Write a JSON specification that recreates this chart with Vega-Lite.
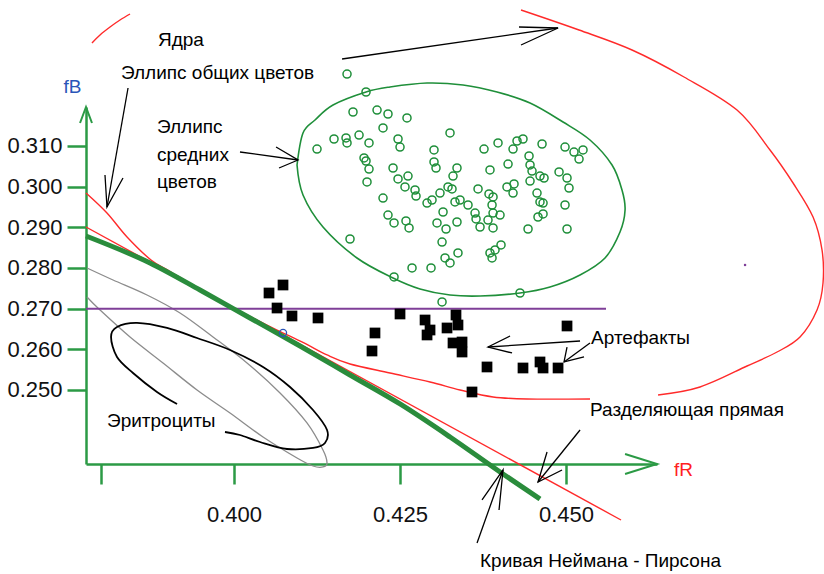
{
 "$schema": "https://vega.github.io/schema/vega-lite/v6.json",
 "width": 571, "height": 357,
 "autosize": {"type": "none"},
 "padding": {"left": 86, "top": 107, "right": 167, "bottom": 110},
 "background": "white",
 "config": {"view": {"stroke": null}, "font": "Liberation Sans"},
 "datasets": {
  "green": [
   {"x":0.41702,"y":0.32770},{"x":0.41988,"y":0.32328},{"x":0.41792,"y":0.31836},{"x":0.42154,"y":0.31885},{"x":0.42319,"y":0.31787},{"x":0.42605,"y":0.31689},{"x":0.42244,"y":0.31443},{"x":0.43253,"y":0.31320},{"x":0.41250,"y":0.30926},{"x":0.41506,"y":0.31172},{"x":0.41687,"y":0.31197},{"x":0.41702,"y":0.31074},{"x":0.41883,"y":0.31270},{"x":0.42033,"y":0.31074},{"x":0.42470,"y":0.31172},{"x":0.42500,"y":0.30975},{"x":0.43012,"y":0.30902},{"x":0.41958,"y":0.30705},{"x":0.42033,"y":0.30434},{"x":0.42003,"y":0.30115},{"x":0.42395,"y":0.30459},{"x":0.42470,"y":0.30189},{"x":0.42620,"y":0.30262},{"x":0.42575,"y":0.29992},{"x":0.42726,"y":0.29918},{"x":0.42741,"y":0.29770},{"x":0.43012,"y":0.30607},{"x":0.43042,"y":0.30459},{"x":0.42244,"y":0.29721},{"x":0.42319,"y":0.29303},{"x":0.42410,"y":0.29107},{"x":0.42590,"y":0.29156},{"x":0.42636,"y":0.28984},{"x":0.41747,"y":0.28713},{"x":0.42681,"y":0.28000},{"x":0.42967,"y":0.28000},{"x":0.42410,"y":0.27779},{"x":0.42907,"y":0.29598},{"x":0.42982,"y":0.29672},{"x":0.43102,"y":0.29844},{"x":0.43148,"y":0.29377},{"x":0.43057,"y":0.29107},{"x":0.43193,"y":0.28959},{"x":0.43133,"y":0.28639},{"x":0.43178,"y":0.28246},{"x":0.43223,"y":0.29992},{"x":0.43283,"y":0.29943},{"x":0.43358,"y":0.30459},{"x":0.43298,"y":0.30262},{"x":0.43675,"y":0.29943},{"x":0.43840,"y":0.29820},{"x":0.43901,"y":0.29746},{"x":0.44111,"y":0.29992},{"x":0.44217,"y":0.30066},{"x":0.44202,"y":0.29844},{"x":0.44563,"y":0.29844},{"x":0.44608,"y":0.29623},{"x":0.44654,"y":0.29328},{"x":0.44578,"y":0.29254},{"x":0.43328,"y":0.29623},{"x":0.43404,"y":0.29672},{"x":0.43524,"y":0.29549},{"x":0.43630,"y":0.29352},{"x":0.43645,"y":0.29205},{"x":0.43705,"y":0.29008},{"x":0.43886,"y":0.29549},{"x":0.43901,"y":0.29352},{"x":0.44006,"y":0.29303},{"x":0.43825,"y":0.29180},{"x":0.43901,"y":0.28984},{"x":0.43358,"y":0.29131},{"x":0.43253,"y":0.28123},{"x":0.43373,"y":0.28369},{"x":0.43855,"y":0.28369},{"x":0.43931,"y":0.28443},{"x":0.44021,"y":0.28566},{"x":0.43886,"y":0.28246},{"x":0.44307,"y":0.27385},{"x":0.43765,"y":0.30926},{"x":0.43976,"y":0.31074},{"x":0.44202,"y":0.30926},{"x":0.44262,"y":0.31123},{"x":0.44352,"y":0.31172},{"x":0.44639,"y":0.31049},{"x":0.44985,"y":0.30975},{"x":0.45120,"y":0.30852},{"x":0.45256,"y":0.30902},{"x":0.45196,"y":0.30680},{"x":0.43855,"y":0.30410},{"x":0.44127,"y":0.30557},{"x":0.44443,"y":0.30754},{"x":0.44458,"y":0.30533},{"x":0.44488,"y":0.30385},{"x":0.44458,"y":0.30139},{"x":0.44608,"y":0.30262},{"x":0.44669,"y":0.30213},{"x":0.44895,"y":0.30361},{"x":0.45015,"y":0.30213},{"x":0.45045,"y":0.29967},{"x":0.44985,"y":0.29549},{"x":0.45015,"y":0.28959},{"x":0.44428,"y":0.28959},{"x":0.43133,"y":0.27164},{"x":0.41988,"y":0.30631},{"x":0.44654,"y":0.29598}
  ],
  "black": [
   {"x":0.40527,"y":0.27385},{"x":0.40738,"y":0.27582},{"x":0.40648,"y":0.27016},{"x":0.40873,"y":0.26820},{"x":0.41265,"y":0.26771},{"x":0.42500,"y":0.26869},{"x":0.42123,"y":0.26402},{"x":0.42078,"y":0.25959},{"x":0.42877,"y":0.26721},{"x":0.42952,"y":0.26475},{"x":0.42907,"y":0.26353},{"x":0.43208,"y":0.26525},{"x":0.43343,"y":0.26844},{"x":0.43373,"y":0.26598},{"x":0.43298,"y":0.26156},{"x":0.43434,"y":0.26180},{"x":0.43434,"y":0.25934},{"x":0.43810,"y":0.25566},{"x":0.44352,"y":0.25541},{"x":0.44608,"y":0.25689},{"x":0.44654,"y":0.25541},{"x":0.44880,"y":0.25541},{"x":0.45015,"y":0.26574},{"x":0.43584,"y":0.24951}
  ],
  "blue": [{"x":0.40738,"y":0.26402}],
  "dot": [{"x":0.47696,"y":0.28074}],
  "lines": [
   {"g":"redE","seg":"a1","i":0,"x":0.37771,"y":0.29844},{"g":"redE","seg":"a1","i":1,"x":0.38087,"y":0.29352},{"g":"redE","seg":"a1","i":2,"x":0.38389,"y":0.28762},{"g":"redE","seg":"a1","i":3,"x":0.38750,"y":0.28197},{"g":"redE","seg":"a1","i":4,"x":0.39051,"y":0.27902},{"g":"redE","seg":"a1","i":5,"x":0.39503,"y":0.27459},{"g":"redE","seg":"a1","i":6,"x":0.39849,"y":0.27139},{"g":"redE","seg":"a1","i":7,"x":0.40256,"y":0.26795},{"g":"redE","seg":"a1","i":8,"x":0.40648,"y":0.26475},{"g":"redE","seg":"a1","i":9,"x":0.41054,"y":0.26156},{"g":"redE","seg":"a1","i":10,"x":0.41401,"y":0.25861},{"g":"redE","seg":"a1","i":11,"x":0.41747,"y":0.25639},{"g":"redE","seg":"a1","i":12,"x":0.42349,"y":0.25418},{"g":"redE","seg":"a1","i":13,"x":0.42952,"y":0.25197},{"g":"redE","seg":"a1","i":14,"x":0.43404,"y":0.25000},{"g":"redE","seg":"a1","i":15,"x":0.43901,"y":0.24828},{"g":"redE","seg":"a1","i":16,"x":0.44413,"y":0.24779},{"g":"redE","seg":"a1","i":17,"x":0.45361,"y":0.24779},
   {"g":"redE","seg":"a2","i":0,"x":0.46386,"y":0.24877},{"g":"redE","seg":"a2","i":1,"x":0.47018,"y":0.25074},{"g":"redE","seg":"a2","i":2,"x":0.47726,"y":0.25590},{"g":"redE","seg":"a2","i":3,"x":0.48178,"y":0.25934},{"g":"redE","seg":"a2","i":4,"x":0.48524,"y":0.26303},{"g":"redE","seg":"a2","i":5,"x":0.48780,"y":0.26967},{"g":"redE","seg":"a2","i":6,"x":0.48870,"y":0.27631},{"g":"redE","seg":"a2","i":7,"x":0.48855,"y":0.28443},{"g":"redE","seg":"a2","i":8,"x":0.48720,"y":0.29254},{"g":"redE","seg":"a2","i":9,"x":0.48419,"y":0.30090},{"g":"redE","seg":"a2","i":10,"x":0.48072,"y":0.30902},{"g":"redE","seg":"a2","i":11,"x":0.47575,"y":0.31885},{"g":"redE","seg":"a2","i":12,"x":0.46777,"y":0.32697},{"g":"redE","seg":"a2","i":13,"x":0.45994,"y":0.33361},{"g":"redE","seg":"a2","i":14,"x":0.45196,"y":0.33852},{"g":"redE","seg":"a2","i":15,"x":0.44322,"y":0.34344},
   {"g":"redE","seg":"b","i":0,"x":0.37861,"y":0.33533},{"g":"redE","seg":"b","i":1,"x":0.37982,"y":0.33730},{"g":"redE","seg":"b","i":2,"x":0.38133,"y":0.33926},{"g":"redE","seg":"b","i":3,"x":0.38283,"y":0.34098},{"g":"redE","seg":"b","i":4,"x":0.38434,"y":0.34246},
   {"g":"redL","seg":"s","i":0,"x":0.37771,"y":0.29008},{"g":"redL","seg":"s","i":1,"x":0.45828,"y":0.21803},
   {"g":"purple","seg":"p","i":0,"x":0.37771,"y":0.270},{"g":"purple","seg":"p","i":1,"x":0.45602,"y":0.270},
   {"g":"np","seg":"n","i":0,"x":0.37771,"y":0.28787},{"g":"np","seg":"n","i":1,"x":0.38735,"y":0.28123},{"g":"np","seg":"n","i":2,"x":0.39488,"y":0.27459},{"g":"np","seg":"n","i":3,"x":0.40241,"y":0.26771},{"g":"np","seg":"n","i":4,"x":0.40994,"y":0.26082},{"g":"np","seg":"n","i":5,"x":0.41747,"y":0.25369},{"g":"np","seg":"n","i":6,"x":0.42500,"y":0.24656},{"g":"np","seg":"n","i":7,"x":0.43253,"y":0.23844},{"g":"np","seg":"n","i":8,"x":0.44006,"y":0.22984},{"g":"np","seg":"n","i":9,"x":0.44608,"y":0.22320},
   {"g":"gray","seg":"g","i":0,"x":0.37786,"y":0.28000},{"g":"gray","seg":"g","i":1,"x":0.38178,"y":0.27705},{"g":"gray","seg":"g","i":2,"x":0.38690,"y":0.27336},{"g":"gray","seg":"g","i":3,"x":0.39187,"y":0.26893},{"g":"gray","seg":"g","i":4,"x":0.39684,"y":0.26303},{"g":"gray","seg":"g","i":5,"x":0.40196,"y":0.25664},{"g":"gray","seg":"g","i":6,"x":0.40693,"y":0.24926},{"g":"gray","seg":"g","i":7,"x":0.41099,"y":0.24189},{"g":"gray","seg":"g","i":8,"x":0.41340,"y":0.23525},{"g":"gray","seg":"g","i":9,"x":0.41401,"y":0.23205},{"g":"gray","seg":"g","i":10,"x":0.41340,"y":0.23107},{"g":"gray","seg":"g","i":11,"x":0.41190,"y":0.23131},{"g":"gray","seg":"g","i":12,"x":0.40949,"y":0.23328},{"g":"gray","seg":"g","i":13,"x":0.40437,"y":0.23844},{"g":"gray","seg":"g","i":14,"x":0.39940,"y":0.24434},{"g":"gray","seg":"g","i":15,"x":0.39443,"y":0.25000},{"g":"gray","seg":"g","i":16,"x":0.38931,"y":0.25664},{"g":"gray","seg":"g","i":17,"x":0.38434,"y":0.26303},{"g":"gray","seg":"g","i":18,"x":0.37982,"y":0.26967},{"g":"gray","seg":"g","i":19,"x":0.37786,"y":0.27287},
   {"g":"blackE","seg":"e","i":0,"x":0.39142,"y":0.24656},{"g":"blackE","seg":"e","i":1,"x":0.38840,"y":0.24951},{"g":"blackE","seg":"e","i":2,"x":0.38479,"y":0.25418},{"g":"blackE","seg":"e","i":3,"x":0.38238,"y":0.25812},{"g":"blackE","seg":"e","i":4,"x":0.38148,"y":0.26303},{"g":"blackE","seg":"e","i":5,"x":0.38238,"y":0.26549},{"g":"blackE","seg":"e","i":6,"x":0.38539,"y":0.26648},{"g":"blackE","seg":"e","i":7,"x":0.38991,"y":0.26525},{"g":"blackE","seg":"e","i":8,"x":0.39443,"y":0.26279},{"g":"blackE","seg":"e","i":9,"x":0.39940,"y":0.25984},{"g":"blackE","seg":"e","i":10,"x":0.40437,"y":0.25566},{"g":"blackE","seg":"e","i":11,"x":0.40843,"y":0.25074},{"g":"blackE","seg":"e","i":12,"x":0.41190,"y":0.24508},{"g":"blackE","seg":"e","i":13,"x":0.41401,"y":0.24016},{"g":"blackE","seg":"e","i":14,"x":0.41370,"y":0.23697},{"g":"blackE","seg":"e","i":15,"x":0.41190,"y":0.23574},{"g":"blackE","seg":"e","i":16,"x":0.40798,"y":0.23549},{"g":"blackE","seg":"e","i":17,"x":0.40392,"y":0.23721},{"g":"blackE","seg":"e","i":18,"x":0.40090,"y":0.23893},{"g":"blackE","seg":"e","i":19,"x":0.39864,"y":0.23967},
   {"g":"greenE","seg":"m","i":0,"x":0.40949,"y":0.30533},{"g":"greenE","seg":"m","i":1,"x":0.41039,"y":0.31320},{"g":"greenE","seg":"m","i":2,"x":0.41220,"y":0.31639},{"g":"greenE","seg":"m","i":3,"x":0.41491,"y":0.32008},{"g":"greenE","seg":"m","i":4,"x":0.41988,"y":0.32328},{"g":"greenE","seg":"m","i":5,"x":0.42349,"y":0.32451},{"g":"greenE","seg":"m","i":6,"x":0.42907,"y":0.32549},{"g":"greenE","seg":"m","i":7,"x":0.43449,"y":0.32500},{"g":"greenE","seg":"m","i":8,"x":0.43961,"y":0.32328},{"g":"greenE","seg":"m","i":9,"x":0.44458,"y":0.32057},{"g":"greenE","seg":"m","i":10,"x":0.44955,"y":0.31590},{"g":"greenE","seg":"m","i":11,"x":0.45361,"y":0.31148},{"g":"greenE","seg":"m","i":12,"x":0.45693,"y":0.30533},{"g":"greenE","seg":"m","i":13,"x":0.45843,"y":0.29918},{"g":"greenE","seg":"m","i":14,"x":0.45889,"y":0.29426},{"g":"greenE","seg":"m","i":15,"x":0.45813,"y":0.28885},{"g":"greenE","seg":"m","i":16,"x":0.45587,"y":0.28246},{"g":"greenE","seg":"m","i":17,"x":0.45211,"y":0.27828},{"g":"greenE","seg":"m","i":18,"x":0.44759,"y":0.27533},{"g":"greenE","seg":"m","i":19,"x":0.44307,"y":0.27385},{"g":"greenE","seg":"m","i":20,"x":0.43705,"y":0.27311},{"g":"greenE","seg":"m","i":21,"x":0.43253,"y":0.27336},{"g":"greenE","seg":"m","i":22,"x":0.42801,"y":0.27484},{"g":"greenE","seg":"m","i":23,"x":0.42395,"y":0.27754},{"g":"greenE","seg":"m","i":24,"x":0.41852,"y":0.28246},{"g":"greenE","seg":"m","i":25,"x":0.41340,"y":0.29008},{"g":"greenE","seg":"m","i":26,"x":0.41039,"y":0.29795},{"g":"greenE","seg":"m","i":27,"x":0.40949,"y":0.30533},
   {"g":"arrow","seg":"1","i":0,"x":0.41627,"y":0.33139},{"g":"arrow","seg":"1","i":1,"x":0.44880,"y":0.33902},
   {"g":"arrow","seg":"2","i":0,"x":0.44292,"y":0.33926},{"g":"arrow","seg":"2","i":1,"x":0.44880,"y":0.33902},{"g":"arrow","seg":"2","i":2,"x":0.44322,"y":0.33484},
   {"g":"arrow","seg":"3","i":0,"x":0.38404,"y":0.32426},{"g":"arrow","seg":"3","i":1,"x":0.38087,"y":0.29500},
   {"g":"arrow","seg":"4","i":0,"x":0.38057,"y":0.30287},{"g":"arrow","seg":"4","i":1,"x":0.38087,"y":0.29500},{"g":"arrow","seg":"4","i":2,"x":0.38328,"y":0.30213},
   {"g":"arrow","seg":"5","i":0,"x":0.40090,"y":0.30852},{"g":"arrow","seg":"5","i":1,"x":0.40964,"y":0.30656},
   {"g":"arrow","seg":"6","i":0,"x":0.40633,"y":0.30975},{"g":"arrow","seg":"6","i":1,"x":0.40964,"y":0.30656},{"g":"arrow","seg":"6","i":2,"x":0.40678,"y":0.30459},
   {"g":"arrow","seg":"7","i":0,"x":0.45211,"y":0.26205},{"g":"arrow","seg":"7","i":1,"x":0.43825,"y":0.26057},
   {"g":"arrow","seg":"8","i":0,"x":0.44157,"y":0.26328},{"g":"arrow","seg":"8","i":1,"x":0.43825,"y":0.26057},{"g":"arrow","seg":"8","i":2,"x":0.44187,"y":0.25910},
   {"g":"arrow","seg":"9","i":0,"x":0.45361,"y":0.26156},{"g":"arrow","seg":"9","i":1,"x":0.44970,"y":0.25689},
   {"g":"arrow","seg":"10","i":0,"x":0.45015,"y":0.26057},{"g":"arrow","seg":"10","i":1,"x":0.44970,"y":0.25689},{"g":"arrow","seg":"10","i":2,"x":0.45271,"y":0.25812},
   {"g":"arrow","seg":"11","i":0,"x":0.45211,"y":0.24016},{"g":"arrow","seg":"11","i":1,"x":0.44578,"y":0.22738},
   {"g":"arrow","seg":"12","i":0,"x":0.44714,"y":0.23475},{"g":"arrow","seg":"12","i":1,"x":0.44578,"y":0.22738},{"g":"arrow","seg":"12","i":2,"x":0.44940,"y":0.23033},
   {"g":"arrow","seg":"13","i":0,"x":0.43660,"y":0.21238},{"g":"arrow","seg":"13","i":1,"x":0.44051,"y":0.23033},
   {"g":"arrow","seg":"14","i":0,"x":0.43735,"y":0.22295},{"g":"arrow","seg":"14","i":1,"x":0.44051,"y":0.23033},{"g":"arrow","seg":"14","i":2,"x":0.43991,"y":0.22049},
   {"g":"axarrow","seg":"y","i":0,"x":0.37681,"y":0.31566},{"g":"axarrow","seg":"y","i":1,"x":0.37771,"y":0.31959},{"g":"axarrow","seg":"y","i":2,"x":0.37861,"y":0.31566},
   {"g":"axarrow","seg":"x","i":0,"x":0.45889,"y":0.23426},{"g":"axarrow","seg":"x","i":1,"x":0.46370,"y":0.23180},{"g":"axarrow","seg":"x","i":2,"x":0.45889,"y":0.22934}
  ],
  "labels": [
   {"label":"Ядра","x":0.38855,"y":0.33607},
   {"label":"Эллипс общих цветов","x":0.38298,"y":0.32795},
   {"label":"Эллипс","x":0.38840,"y":0.31467},
   {"label":"средних","x":0.38840,"y":0.30779},
   {"label":"цветов","x":0.38840,"y":0.30115},
   {"label":"Эритроциты","x":0.38087,"y":0.24238},
   {"label":"Артефакты","x":0.45377,"y":0.26279},
   {"label":"Разделяющая прямая","x":0.45361,"y":0.24508},
   {"label":"Кривая Неймана - Пирсона","x":0.43705,"y":0.20795}
  ]
 },
 "encoding": {
  "x": {"field": "x", "type": "quantitative",
   "scale": {"domain": [0.37771, 0.46370], "nice": false, "zero": false},
   "axis": {"values": [0.38, 0.4, 0.425, 0.45], "labelExpr": "datum.value < 0.39 ? '' : format(datum.value, '.3f')",
    "grid": false, "domainColor": "#2b9a45", "domainWidth": 2.5, "tickColor": "#2b9a45", "tickWidth": 2.5, "tickSize": 20,
    "labelFontSize": 22, "labelColor": "#111111", "labelPadding": 20, "labelDx": 9, "labelFlush": false, "labelOverlap": false,
    "title": "fR", "titleColor": "#ff2020", "titleFontSize": 19, "titleFontWeight": "normal", "titleX": 597, "titleY": 5,
    "titleAlign": "center", "titleBaseline": "middle"}},
  "y": {"field": "y", "type": "quantitative",
   "scale": {"domain": [0.23180, 0.31959], "nice": false, "zero": false},
   "axis": {"values": [0.25, 0.26, 0.27, 0.28, 0.29, 0.3, 0.31], "format": ".3f",
    "grid": false, "domainColor": "#2b9a45", "domainWidth": 2.5, "tickColor": "#2b9a45", "tickWidth": 2.5, "tickSize": 19,
    "labelFontSize": 22, "labelColor": "#111111", "labelPadding": 5, "labelFlush": false, "labelOverlap": false,
    "title": "fB", "titleColor": "#2a55b8", "titleFontSize": 19, "titleFontWeight": "normal", "titleAngle": 0,
    "titleX": -14, "titleY": -21, "titleAlign": "center", "titleBaseline": "middle"}}
 },
 "layer": [
  {"data": {"name": "lines"}, "transform": [{"filter": "datum.g == 'gray'"}],
   "mark": {"type": "line", "interpolate": "cardinal", "color": "#8c8c8c", "strokeWidth": 1.3},
   "encoding": {"order": {"field": "i", "type": "quantitative"}, "detail": {"field": "seg"}}},
  {"data": {"name": "lines"}, "transform": [{"filter": "datum.g == 'blackE'"}],
   "mark": {"type": "line", "interpolate": "cardinal", "color": "#000000", "strokeWidth": 1.8},
   "encoding": {"order": {"field": "i", "type": "quantitative"}, "detail": {"field": "seg"}}},
  {"data": {"name": "lines"}, "transform": [{"filter": "datum.g == 'greenE'"}],
   "mark": {"type": "line", "interpolate": "cardinal", "color": "#1f8f3a", "strokeWidth": 1.6},
   "encoding": {"order": {"field": "i", "type": "quantitative"}, "detail": {"field": "seg"}}},
  {"data": {"name": "lines"}, "transform": [{"filter": "datum.g == 'purple'"}],
   "mark": {"type": "line", "color": "#7f3f98", "strokeWidth": 2},
   "encoding": {"order": {"field": "i", "type": "quantitative"}, "detail": {"field": "seg"}}},
  {"data": {"name": "lines"}, "transform": [{"filter": "datum.g == 'redE'"}],
   "mark": {"type": "line", "interpolate": "cardinal", "color": "#ff2a2a", "strokeWidth": 1.4},
   "encoding": {"order": {"field": "i", "type": "quantitative"}, "detail": {"field": "seg"}}},
  {"data": {"name": "lines"}, "transform": [{"filter": "datum.g == 'redL'"}],
   "mark": {"type": "line", "color": "#ff2a2a", "strokeWidth": 1.4},
   "encoding": {"order": {"field": "i", "type": "quantitative"}, "detail": {"field": "seg"}}},
  {"data": {"name": "lines"}, "transform": [{"filter": "datum.g == 'np'"}],
   "mark": {"type": "line", "interpolate": "monotone", "color": "#2a8c3c", "strokeWidth": 5},
   "encoding": {"order": {"field": "i", "type": "quantitative"}, "detail": {"field": "seg"}}},
  {"data": {"name": "lines"}, "transform": [{"filter": "datum.g == 'arrow'"}],
   "mark": {"type": "line", "color": "#000000", "strokeWidth": 1.3},
   "encoding": {"order": {"field": "i", "type": "quantitative"}, "detail": {"field": "seg"}}},
  {"data": {"name": "lines"}, "transform": [{"filter": "datum.g == 'axarrow'"}],
   "mark": {"type": "line", "color": "#2b9a45", "strokeWidth": 2},
   "encoding": {"order": {"field": "i", "type": "quantitative"}, "detail": {"field": "seg"}}},
  {"data": {"name": "green"},
   "mark": {"type": "point", "shape": "circle", "filled": false, "color": "#1f8f3a", "strokeWidth": 1.5, "size": 65, "opacity": 1}},
  {"data": {"name": "black"},
   "mark": {"type": "point", "shape": "square", "filled": true, "color": "#000000", "size": 115, "opacity": 1}},
  {"data": {"name": "blue"},
   "mark": {"type": "point", "shape": "circle", "filled": false, "color": "#2a55b8", "strokeWidth": 1.3, "size": 50, "opacity": 1}},
  {"data": {"name": "dot"},
   "mark": {"type": "point", "shape": "square", "filled": true, "color": "#7f3f98", "size": 5, "opacity": 1}},
  {"data": {"name": "labels"},
   "mark": {"type": "text", "align": "left", "baseline": "middle", "fontSize": 19, "font": "Liberation Sans", "color": "#000000"},
   "encoding": {"text": {"field": "label"}}}
 ]
}
